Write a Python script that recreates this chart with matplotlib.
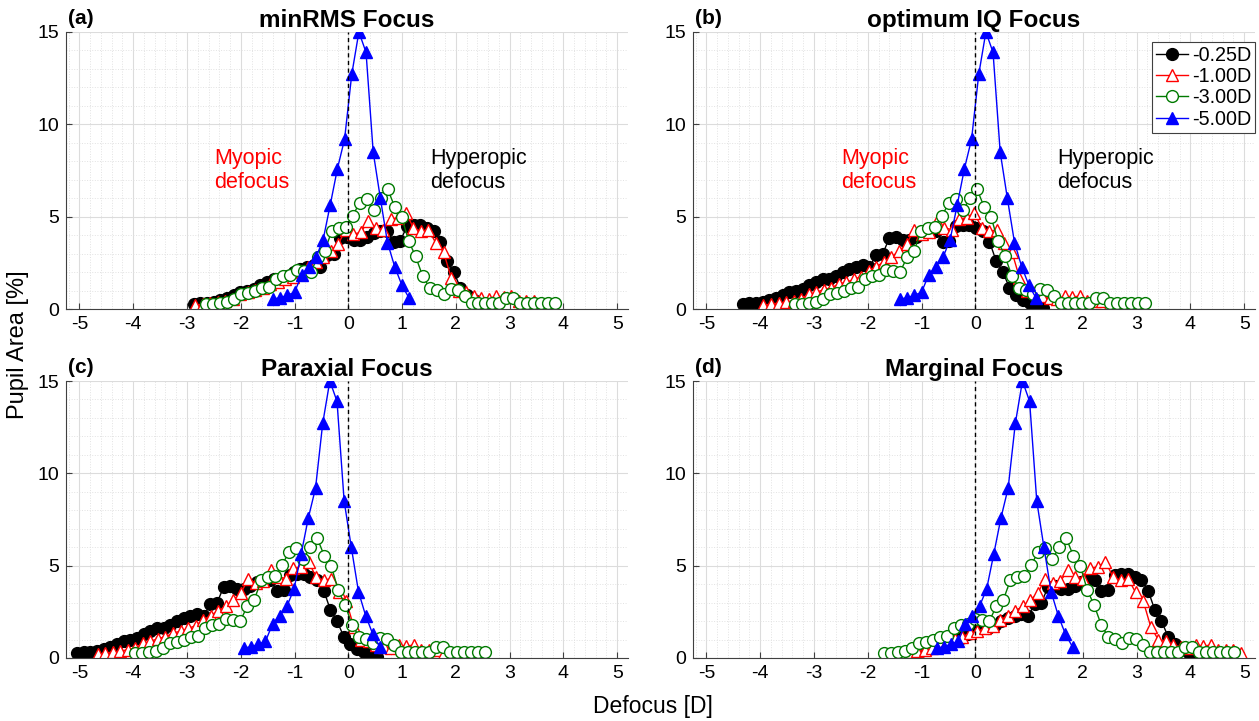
import numpy as np
import matplotlib.pyplot as plt
from matplotlib.ticker import MultipleLocator

plt.rcParams['font.family'] = ['Liberation Sans', 'DejaVu Sans']
plt.rcParams['axes.unicode_minus'] = False

# Pupil area [%] per defocus sample
# each series: first defocus value and step (in its reference panel), y values
black_x0, black_step = -2.875, 0.124
black_y = [0.25, 0.3, 0.35, 0.4, 0.5, 0.6, 0.75, 0.9, 1.0, 1.1,
           1.3, 1.45, 1.6, 1.65, 1.8, 2.0, 2.15, 2.25, 2.4, 2.25,
           2.95, 3.0, 3.85, 3.9, 3.75, 3.75, 3.9, 4.1, 4.2, 4.2,
           3.65, 3.7, 4.5, 4.55, 4.55, 4.4, 4.25, 3.65, 2.6, 2.0,
           1.15, 0.75, 0.5, 0.3, 0.15, 0.05]

red_x0, red_step = -1.5, 0.14
red_y = [0.2, 0.27, 0.32, 0.38, 0.45, 0.55, 0.8, 0.9, 1.05, 1.15,
         1.35, 1.45, 1.6, 1.75, 2.05, 2.3, 2.55, 2.8, 3.15, 3.5,
         4.3, 4.05, 4.15, 4.75, 4.4, 4.3, 4.85, 4.95, 5.2, 4.4,
         4.2, 4.3, 3.55, 3.1, 1.7, 1.0, 0.9, 0.7, 0.6, 0.55,
         0.7, 0.65, 0.7, 0.45, 0.45, 0.45, 0.27]

green_x0, green_step = -1.69, 0.13
green_y = [0.25, 0.27, 0.33, 0.4, 0.55, 0.8, 0.88, 0.95, 1.15, 1.2,
           1.6, 1.8, 1.85, 2.1, 2.05, 2.0, 2.8, 3.15, 4.2, 4.4,
           4.45, 5.05, 5.75, 5.95, 5.35, 6.0, 6.5, 5.55, 5.0, 3.7,
           2.85, 1.8, 1.15, 1.05, 0.8, 1.1, 1.05, 0.7, 0.35, 0.3,
           0.3, 0.3, 0.3, 0.6, 0.6, 0.3, 0.3, 0.3, 0.3, 0.3, 0.35]

blue_x0, blue_step = -0.72, 0.133
blue_y = [0.55, 0.6, 0.75, 0.9, 1.85, 2.3, 2.8, 3.75, 5.65, 7.6,
          9.2, 12.7, 15.0, 13.9, 8.5, 6.0, 3.6, 2.3, 1.3, 0.6]

labels = ['-0.25D', '-1.00D', '-3.00D', '-5.00D']
titles = ['minRMS Focus', 'optimum IQ Focus', 'Paraxial Focus', 'Marginal Focus']
tags = ['(a)', '(b)', '(c)', '(d)']

# shift of each series in each panel (a, b, c, d)
black_shift = [0.0, -1.45, -2.17, 1.5]
red_shift = [-1.35, -2.44, -3.16, 0.0]
green_shift = [-0.96, -1.66, -2.27, 0.0]
blue_shift = [-0.68, -0.68, -1.22, 0.0]

series = [
    (black_x0, black_step, black_y, black_shift, dict(color='black', marker='o', mfc='black', mec='black')),
    (red_x0, red_step, red_y, red_shift, dict(color='red', marker='^', mfc='white', mec='red')),
    (green_x0, green_step, green_y, green_shift, dict(color='#007a00', marker='o', mfc='white', mec='#007a00')),
    (blue_x0, blue_step, blue_y, blue_shift, dict(color='blue', marker='^', mfc='blue', mec='blue')),
]

fig = plt.figure(figsize=(12.59, 7.21), dpi=100)
W, H = 1259, 721
boxes = [(66, 32), (693, 32), (66, 381), (693, 381)]
aw, ah = 562, 277

for k in range(4):
    l, t = boxes[k]
    ax = fig.add_axes([l / W, 1 - (t + ah) / H, aw / W, ah / H])
    for x0, step, ys, shifts, st in series:
        xs = x0 + step * np.arange(len(ys)) + shifts[k]
        ax.plot(xs, ys, lw=1.0, ms=8.5, mew=1.0, **st)
    ax.axvline(0, color='black', ls='--', lw=1.0, dashes=(3, 2.5))
    ax.set_xlim(-5.25, 5.2)
    ax.set_ylim(0, 15)
    ax.set_xticks(range(-5, 6))
    ax.set_yticks([0, 5, 10, 15])
    ax.xaxis.set_minor_locator(MultipleLocator(0.2))
    ax.yaxis.set_minor_locator(MultipleLocator(1))
    ax.grid(True, which='major', color='#dcdcdc', lw=0.8)
    ax.grid(True, which='minor', color='#e2e2e2', lw=0.7, ls=':')
    ax.set_axisbelow(True)
    for s in ['top', 'right']:
        ax.spines[s].set_visible(False)
    for s in ['left', 'bottom']:
        ax.spines[s].set_color('#404040')
        ax.spines[s].set_linewidth(0.8)
    ax.tick_params(which='major', direction='in', length=4, labelsize=14,
                   color='#404040', pad=5)
    ax.tick_params(which='minor', length=0)
    ax.set_title(titles[k], fontsize=17.5, fontweight='bold', pad=2)
    ax.text(0.003, 1.015, tags[k], transform=ax.transAxes, fontsize=15,
            fontweight='bold', va='bottom', ha='left')
    if k < 2:
        ax.text(-2.5, 7.5, 'Myopic\ndefocus', color='red', fontsize=15.5,
                va='center', ha='left', linespacing=1.2)
        ax.text(1.52, 7.5, 'Hyperopic\ndefocus', color='black', fontsize=15.5,
                va='center', ha='left', linespacing=1.2)
    if k == 1:
        handles = [ax.lines[i] for i in range(4)]
        leg = ax.legend(handles, labels, loc='upper right', fontsize=14.2,
                        handlelength=1.6, handletextpad=0.2, borderpad=0.2,
                        labelspacing=0.12, fancybox=False, framealpha=1,
                        edgecolor='#404040', borderaxespad=0.0,
                        bbox_to_anchor=(1.0, 0.965))
        leg.get_frame().set_linewidth(0.8)
        for h in leg.legend_handles:
            h.set_markersize(8.5)

fig.text(18 / W, 1 - 345 / H, 'Pupil Area [%]', rotation=90, fontsize=17,
         va='center', ha='center')
fig.text(653 / W, 1 - 706 / H, 'Defocus [D]', fontsize=16.5, va='center', ha='center')

fig.savefig('out.png', dpi=100)
